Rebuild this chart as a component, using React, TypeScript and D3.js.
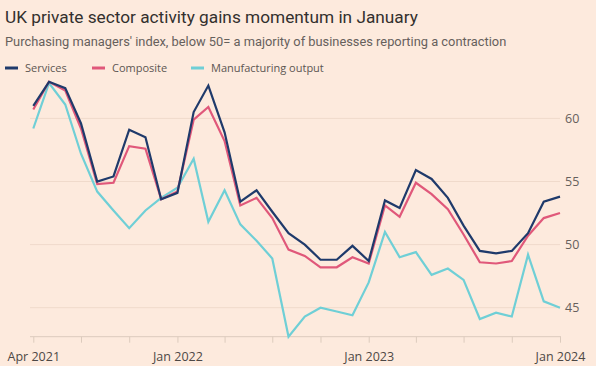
import React, { useEffect, useRef } from "react";
import * as d3 from "d3";

// months from Apr 2021 to Jan 2024
const startMonth = new Date(2021, 3, 1);
const monthCount = 34;

const services = [
  61.0, 62.9, 62.4, 59.6, 55.0, 55.4, 59.1, 58.5, 53.6, 54.1, 60.5, 62.6,
  58.9, 53.4, 54.3, 52.6, 50.9, 50.0, 48.8, 48.8, 49.9, 48.7, 53.5, 52.9,
  55.9, 55.2, 53.7, 51.5, 49.5, 49.3, 49.5, 50.9, 53.4, 53.8,
];
const composite = [
  60.7, 62.9, 62.2, 59.2, 54.8, 54.9, 57.8, 57.6, 53.6, 54.2, 59.9, 60.9,
  58.2, 53.1, 53.7, 52.1, 49.6, 49.1, 48.2, 48.2, 49.0, 48.5, 53.1, 52.2,
  54.9, 54.0, 52.8, 50.8, 48.6, 48.5, 48.7, 50.7, 52.1, 52.5,
];
const manufacturing = [
  59.2, 62.8, 61.1, 57.2, 54.2, 52.7, 51.3, 52.7, 53.7, 54.5, 56.8, 51.8,
  54.3, 51.6, 50.3, 48.9, 42.7, 44.3, 45.0, 44.7, 44.4, 47.0, 51.0, 49.0,
  49.4, 47.6, 48.1, 47.2, 44.1, 44.6, 44.3, 49.2, 45.5, 45.0,
];
const yTicks = [45, 50, 55, 60];

const seriesNames = ["Services", "Composite", "Manufacturing output"];
const seriesColors = ["#1f3a6b", "#e0587a", "#6fcfd6"];

const W = 596;
const H = 366;

export default function App() {
  const ref = useRef<SVGSVGElement>(null);

  useEffect(() => {
    const svg = d3.select(ref.current);
    svg.selectAll("*").remove();

    const font = "'Open Sans', sans-serif";
    const headFont = "Roboto, sans-serif";

    svg.append("rect").attr("width", W).attr("height", H).attr("fill", "#fdeadd");

    svg.append("text")
      .attr("x", 5).attr("y", 23)
      .attr("font-family", headFont).attr("font-size", 17.25)
      .attr("fill", "#33302e")
      .text("UK private sector activity gains momentum in January");

    svg.append("text")
      .attr("x", 5).attr("y", 46)
      .attr("font-family", headFont).attr("font-size", 12.85)
      .attr("fill", "#66605c")
      .text("Purchasing managers' index, below 50= a majority of businesses reporting a contraction");

    // legend
    const legX = [5, 92, 191];
    seriesNames.forEach((name, i) => {
      const g = svg.append("g").attr("transform", `translate(${legX[i]},68)`);
      g.append("line").attr("x1", 0).attr("x2", 13)
        .attr("stroke", seriesColors[i]).attr("stroke-width", 3);
      g.append("text").attr("x", 20).attr("y", 4)
        .attr("font-family", font).attr("font-size", 11)
        .attr("fill", "#5c5652").text(name);
    });

    const dates = d3.range(monthCount).map(i => d3.timeMonth.offset(startMonth, i));

    const x = d3.scaleTime()
      .domain([dates[0], dates[dates.length - 1]])
      .range([33.3, 560]);

    const y = d3.scaleLinear()
      .domain([42.7, 62.9])
      .range([336.7, 81.8]);

    // gridlines
    svg.append("g").selectAll("line").data(yTicks).enter().append("line")
      .attr("x1", 30).attr("x2", 560)
      .attr("y1", d => y(d)).attr("y2", d => y(d))
      .attr("stroke", "#f0dacb").attr("stroke-width", 1);

    // y axis labels
    const yAxis = d3.axisRight(y).tickValues(yTicks).tickSize(0).tickPadding(0);
    const yg = svg.append("g").attr("transform", "translate(565,0)").call(yAxis);
    yg.select(".domain").remove();
    yg.selectAll("text")
      .attr("font-family", font).attr("font-size", 12.5).attr("fill", "#66605c");

    // x axis
    const tickDates = dates.filter((d, i) => i % 3 === 0);
    const fmt = d3.timeFormat("%b %Y");
    const xAxis = d3.axisBottom(x)
      .tickValues(tickDates)
      .tickSize(6)
      .tickPadding(9)
      .tickFormat((d: any) => (d.getMonth() === 0 || +d === +startMonth ? fmt(d) : ""));
    const xg = svg.append("g").attr("transform", "translate(0,336.7)").call(xAxis);
    xg.select(".domain").attr("d", "M30,0H561").attr("stroke", "#dccbbd");
    xg.selectAll(".tick line").attr("stroke", "#dccbbd");
    xg.selectAll("text")
      .attr("font-family", font).attr("font-size", 12.5).attr("fill", "#4d4845");

    const line = d3.line<number>()
      .x((d, i) => x(dates[i]))
      .y(d => y(d));

    const all = [manufacturing, composite, services];
    const cols = [seriesColors[2], seriesColors[1], seriesColors[0]];
    all.forEach((s, i) => {
      svg.append("path")
        .datum(s)
        .attr("d", line)
        .attr("fill", "none")
        .attr("stroke", cols[i])
        .attr("stroke-width", 2.2)
        .attr("stroke-linejoin", "miter");
    });
  }, []);

  return (
    <svg ref={ref} width={W} height={H} style={{ position: "absolute", left: 0, top: 0 }} />
  );
}
